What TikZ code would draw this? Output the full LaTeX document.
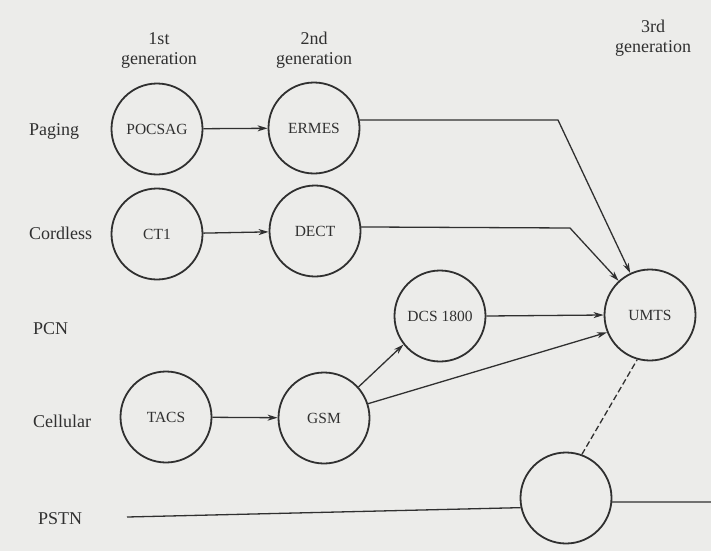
\documentclass[tikz,border=0pt]{standalone}
\usepackage{fontspec}
\setmainfont{Liberation Serif}
\usetikzlibrary{arrows.meta}
\definecolor{paper}{RGB}{236,236,234}
\definecolor{ink}{RGB}{48,48,48}
\tikzset{
  sys/.style={circle, draw=ink, line width=1.8pt, minimum size=91pt, inner sep=0pt,
              text=ink, font=\fontsize{15.5}{18}\selectfont},
  rowlabel/.style={anchor=west, text=ink, font=\fontsize{18}{20}\selectfont, inner sep=0pt},
  genlabel/.style={align=center, text=ink, font=\fontsize{18}{20}\selectfont, inner sep=0pt},
  link/.style={draw=ink, line width=1.3pt},
  arr/.style={link, -{Stealth[length=10pt,width=6pt,inset=3pt]}},
}
\begin{document}
\begin{tikzpicture}[x=1pt,y=-1pt]
  \path[fill=paper, use as bounding box] (0,0) rectangle (711,551);

  % generation headings
  \node[genlabel] (g1) at (159,51) {1st\\generation};
  \node[genlabel] (g2) at (314,50) {2nd\\generation};
  \node[genlabel] (g3) at (653,38) {3rd\\generation};

  % row labels
  \node[rowlabel] (lpag)  at (29,131) {Paging};
  \node[rowlabel] (lcord) at (29,233) {Cordless};
  \node[rowlabel] (lpcn)  at (33,329) {PCN};
  \node[rowlabel] (lcell) at (33,421) {Cellular};
  \node[rowlabel] (lpstn) at (38,519) {PSTN};

  % systems
  \node[sys] (pocsag) at (157,129) {POCSAG};
  \node[sys] (ermes)  at (314,128) {ERMES};
  \node[sys] (ct1)    at (157,234) {CT1};
  \node[sys] (dect)   at (315,231) {DECT};
  \node[sys] (tacs)   at (166,417) {TACS};
  \node[sys] (gsm)    at (324,418) {GSM};
  \node[sys] (dcs)    at (440,316) {DCS 1800};
  \node[sys] (umts)   at (650,315) {UMTS};
  \node[sys] (fix)    at (566,498) {};

  % bends and free ends
  \coordinate (k1) at (558,120);
  \coordinate (k2) at (570,228);
  \coordinate (pl) at (127,517);
  \coordinate (pr) at (711,502);

  % connectors
  \draw[arr] (pocsag) -- (ermes);
  \draw[arr] (ct1) -- (dect);
  \draw[arr] (tacs) -- (gsm);
  \draw[arr] (ermes.10) -- (k1) -- (umts);
  \draw[arr] (dect.5) -- (k2) -- (umts);
  \draw[arr] (dcs.east) -- (umts.west);
  \draw[arr] (gsm.42) -- (dcs.218);
  \draw[arr] (gsm.18) -- (umts.202);
  \draw[link, dash pattern=on 6pt off 3pt] (fix.70) -- (umts.254);
  \draw[link] (pl) -- (fix.192);
  \draw[link] (fix.-5) -- (pr);
\end{tikzpicture}
\end{document}
